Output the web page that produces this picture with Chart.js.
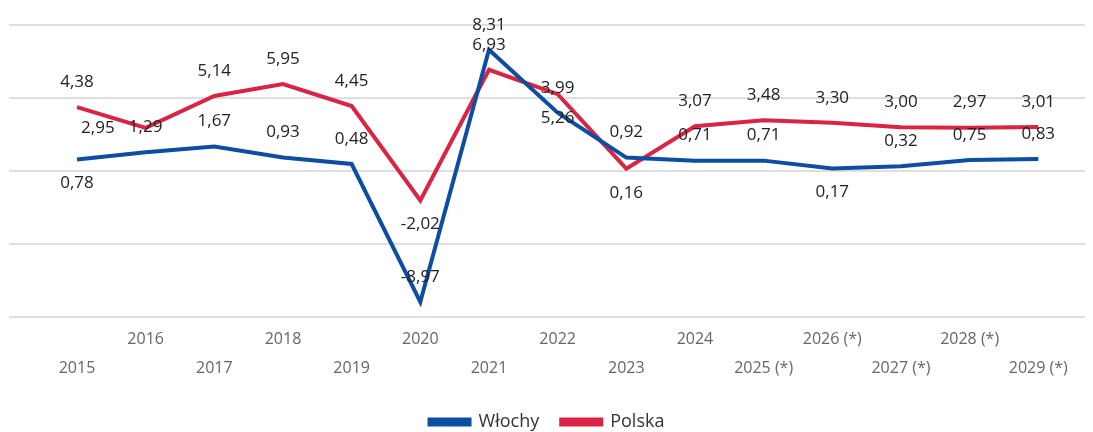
<!DOCTYPE html>
<html>
<head>
<meta charset="utf-8">
<script src="https://cdn.jsdelivr.net/npm/chart.js@4"></script>
<style>
    html, body { margin: 0; padding: 0; background: #ffffff; }
    #wrap { width: 1093px; height: 432px; }
</style>
</head>
<body>
<div id="wrap"><canvas id="chart-gdp"></canvas></div>
<script>
// Years (x axis labels)
const years = ['2015', '2016', '2017', '2018', '2019', '2020', '2021', '2022',
    '2023', '2024', '2025 (*)', '2026 (*)', '2027 (*)', '2028 (*)', '2029 (*)'];

// Series values
const wlochy = [0.78, 1.29, 1.67, 0.93, 0.48, -8.97, 8.31, 3.99, 0.92, 0.71, 0.71, 0.17, 0.32, 0.75, 0.83];
const polska = [4.38, 2.95, 5.14, 5.95, 4.45, -2.02, 6.93, 5.26, 0.16, 3.07, 3.48, 3.30, 3.00, 2.97, 3.01];

// Where each value label sits relative to its point
const wlochyLabelPos = ['below', 'above', 'above', 'above', 'above', 'above', 'above', 'above',
    'above', 'above', 'above', 'below', 'above', 'above', 'above'];
const polskaLabelPos = ['above', 'left', 'above', 'above', 'above', 'below', 'above', 'below',
    'below', 'above', 'above', 'above', 'above', 'above', 'above'];

const colors = {
    wlochy: '#0b4ea2',
    polska: '#da2444',
    grid: '#dedede',
    tick: '#666666',
    label: '#222222'
};

const FONT = '"Open Sans", "Noto Sans", sans-serif';

/**
 * Draws the value labels (Polish decimal comma)
 */
const valueLabels = {
    id: 'valueLabels',
    afterDatasetsDraw(chart) {
        const ctx = chart.ctx;
        ctx.save();
        ctx.font = '17px ' + FONT;
        ctx.fillStyle = colors.label;
        ctx.textBaseline = 'middle';
        chart.data.datasets.forEach((ds, di) => {
            const meta = chart.getDatasetMeta(di);
            meta.data.forEach((pt, i) => {
                const text = ds.data[i].y.toFixed(2).replace('.', ',');
                const pos = ds.labelPos[i];
                let x = pt.x, y = pt.y;
                ctx.textAlign = 'center';
                if (pos === 'above') y -= 25;
                else if (pos === 'below') y += 24;
                else if (pos === 'left') { x -= 31; ctx.textAlign = 'right'; }
                ctx.fillText(text, x, y);
            });
        });
        ctx.restore();
    }
};

const toPoints = arr => arr.map((v, i) => ({ x: i, y: v }));

new Chart(document.getElementById('chart-gdp'), {
    type: 'line',
    data: {
        datasets: [
            {
                label: 'Włochy',
                data: toPoints(wlochy),
                labelPos: wlochyLabelPos,
                borderColor: colors.wlochy,
                backgroundColor: colors.wlochy,
                borderWidth: 4,
                pointRadius: 0,
                tension: 0
            },
            {
                label: 'Polska',
                data: toPoints(polska),
                labelPos: polskaLabelPos,
                borderColor: colors.polska,
                backgroundColor: colors.polska,
                borderWidth: 4,
                pointRadius: 0,
                tension: 0
            }
        ]
    },
    options: {
        responsive: true,
        maintainAspectRatio: false,
        animation: false,
        layout: {
            padding: { top: 25, left: 9, right: 8, bottom: -9 }
        },
        plugins: {
            tooltip: { enabled: false },
            legend: {
                position: 'bottom',
                labels: {
                    boxWidth: 40,
                    boxHeight: 5,
                    padding: 22,
                    color: '#333333',
                    font: { family: FONT, size: 18 }
                }
            }
        },
        scales: {
            x: {
                type: 'linear',
                min: -0.99,
                max: 14.68,
                grid: { display: false, drawTicks: false },
                border: { display: false },
                afterBuildTicks: axis => {
                    axis.ticks = years.map((_, i) => ({ value: i }));
                },
                ticks: {
                    autoSkip: false,
                    maxRotation: 0,
                    padding: 8,
                    color: colors.tick,
                    font: { family: FONT, size: 16, lineHeight: '29px' },
                    callback: (value) => value % 2 ? [years[value], ''] : ['', years[value]]
                }
            },
            y: {
                min: -10,
                max: 10,
                grid: { color: colors.grid, lineWidth: 2, drawTicks: false },
                border: { display: false },
                afterBuildTicks: axis => {
                    axis.ticks = [-10, -5, 0, 5, 10].map(v => ({ value: v }));
                },
                ticks: { display: false }
            }
        }
    },
    plugins: [valueLabels]
});
</script>
</body>
</html>
